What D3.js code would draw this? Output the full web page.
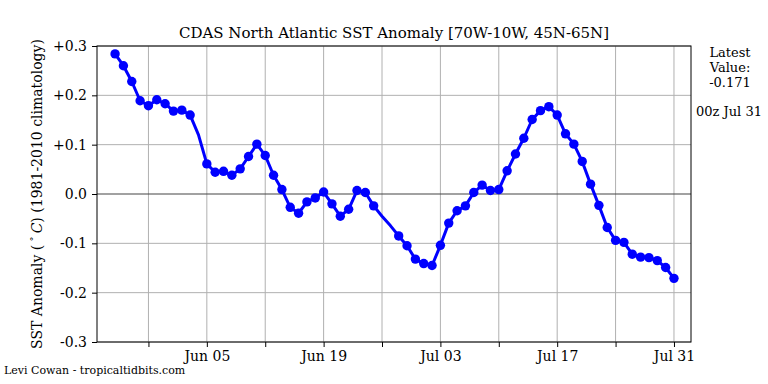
<!DOCTYPE html>
<html>
<head>
<meta charset="utf-8">
<script src="https://cdn.jsdelivr.net/npm/d3@7"></script>
<style>
  body { margin: 0; background: #fff; }
  svg { display: block; font-family: "DejaVu Serif", serif; }
</style>
</head>
<body>
<div id="chart"></div>
<script>
// daily SST anomaly, 00z, starting May 25
const startDate = "2016-05-25";
const anomaly = [
  0.284, 0.260, 0.228, 0.189, 0.179, 0.191, 0.183,
  0.168, 0.170, 0.160, 0.120, 0.061, 0.044, 0.046, 0.038, 0.051, 0.076, 0.101,
  0.078, 0.038, 0.009, -0.027, -0.039, -0.016, -0.008, 0.004, -0.020, -0.045,
  -0.031, 0.007, 0.003, -0.024, -0.045, -0.064, -0.085, -0.105, -0.132,
  -0.141, -0.145, -0.104, -0.059, -0.034, -0.024, 0.003, 0.018, 0.007, 0.009,
  0.047, 0.081, 0.113, 0.151, 0.169, 0.177, 0.160, 0.122, 0.101, 0.066, 0.020,
  -0.023, -0.068, -0.094, -0.098, -0.122, -0.128, -0.129, -0.135, -0.149, -0.171
];
// days drawn without a marker
const noMarker = ["2016-06-04", "2016-06-26", "2016-06-27"];
const xLimits = ["2016-05-22T20:00", "2016-08-02T01:00"];
const yTicks = [-0.3, -0.2, -0.1, 0, 0.1, 0.2, 0.3];
const tickDates = ["2016-05-29", "2016-06-05", "2016-06-12", "2016-06-19", "2016-06-26",
                   "2016-07-03", "2016-07-10", "2016-07-17", "2016-07-24", "2016-07-31"];
const labelDates = ["2016-06-05", "2016-06-19", "2016-07-03", "2016-07-17", "2016-07-31"];

const parse = d3.utcParse("%Y-%m-%d");
const parseT = d3.utcParse("%Y-%m-%dT%H:%M");
const fmt = d3.utcFormat("%Y-%m-%d");
const t0 = parse(startDate);
const data = anomaly.map((v, i) => ({ date: d3.utcDay.offset(t0, i), value: v }));
const skip = new Set(noMarker);

const W = 768, H = 384;
const margin = { top: 46, right: 77, bottom: 42, left: 97 };
const width = W - margin.left - margin.right;
const height = H - margin.top - margin.bottom;

const svg = d3.select("#chart").append("svg").attr("width", W).attr("height", H);
const g = svg.append("g").attr("transform", `translate(${margin.left},${margin.top})`);

const x = d3.scaleUtc().domain(xLimits.map(parseT)).range([0, width]);
const y = d3.scaleLinear().domain([-0.3, 0.3]).range([height, 0]);

// grid
g.append("g").selectAll("line").data(tickDates.map(parse)).join("line")
  .attr("x1", d => x(d)).attr("x2", d => x(d)).attr("y1", 0).attr("y2", height)
  .attr("stroke", "#b0b0b0").attr("stroke-width", 1);
g.append("g").selectAll("line").data(yTicks.filter(v => v !== 0)).join("line")
  .attr("x1", 0).attr("x2", width).attr("y1", d => y(d)).attr("y2", d => y(d))
  .attr("stroke", "#b0b0b0").attr("stroke-width", 1);
g.append("line").attr("x1", 0).attr("x2", width).attr("y1", y(0)).attr("y2", y(0))
  .attr("stroke", "#444").attr("stroke-width", 1.2);

// axes
const labelSet = new Set(labelDates);
const xAxis = d3.axisBottom(x).tickValues(tickDates.map(parse)).tickSizeOuter(0).tickSize(5).tickPadding(4)
  .tickFormat(d => labelSet.has(fmt(d)) ? d3.utcFormat("%b %d")(d) : "");
const gx = g.append("g").attr("transform", `translate(0,${height})`).call(xAxis);
const yAxis = d3.axisLeft(y).tickValues(yTicks).tickSizeOuter(0).tickSize(5).tickPadding(5)
  .tickFormat(d => d === 0 ? "0.0" : (d > 0 ? "+" : "") + d.toFixed(1));
const gy = g.append("g").call(yAxis);
[gx, gy].forEach(a => {
  a.select(".domain").remove();
  a.selectAll("text").attr("font-family", "DejaVu Serif").attr("font-size", 14).attr("fill", "#000");
  a.selectAll("line").attr("stroke", "#000");
});
g.append("rect").attr("width", width).attr("height", height)
  .attr("fill", "none").attr("stroke", "#000").attr("stroke-width", 1);

// series
const line = d3.line().x(d => x(d.date)).y(d => y(d.value));
g.append("path").datum(data).attr("d", line)
  .attr("fill", "none").attr("stroke", "#0000ff").attr("stroke-width", 3).attr("stroke-linejoin", "round");
g.append("g").selectAll("circle").data(data.filter(d => !skip.has(fmt(d.date)))).join("circle")
  .attr("cx", d => x(d.date)).attr("cy", d => y(d.value)).attr("r", 4.7).attr("fill", "#0000ff");

// text
svg.append("text").attr("x", margin.left + width / 2).attr("y", 38).attr("text-anchor", "middle")
  .attr("font-size", 15).text("CDAS North Atlantic SST Anomaly [70W-10W, 45N-65N]");

const yl = svg.append("text").attr("transform", `translate(42,${margin.top + height / 2}) rotate(-90)`)
  .attr("text-anchor", "middle").attr("font-size", 14);
yl.append("tspan").text("SST Anomaly (");
yl.append("tspan").attr("dy", -5).attr("font-size", 10).text(" \u00b0 ");
yl.append("tspan").attr("dy", 5).attr("font-style", "italic").text("C");
yl.append("tspan").text(") (1981-2010 climatology)");

const latest = data[data.length - 1];
const side = ["Latest", "Value:", latest.value.toFixed(3)];
svg.append("g").selectAll("text").data(side).join("text")
  .attr("x", 730).attr("y", (d, i) => 57 + i * 15).attr("text-anchor", "middle")
  .attr("font-size", 13).text(d => d);
svg.append("text").attr("x", 729).attr("y", 116).attr("text-anchor", "middle")
  .attr("font-size", 13).text("00z " + d3.utcFormat("%b %d")(latest.date));

svg.append("text").attr("x", 4).attr("y", 374).attr("font-size", 11)
  .text("Levi Cowan - tropicaltidbits.com");
</script>
</body>
</html>
